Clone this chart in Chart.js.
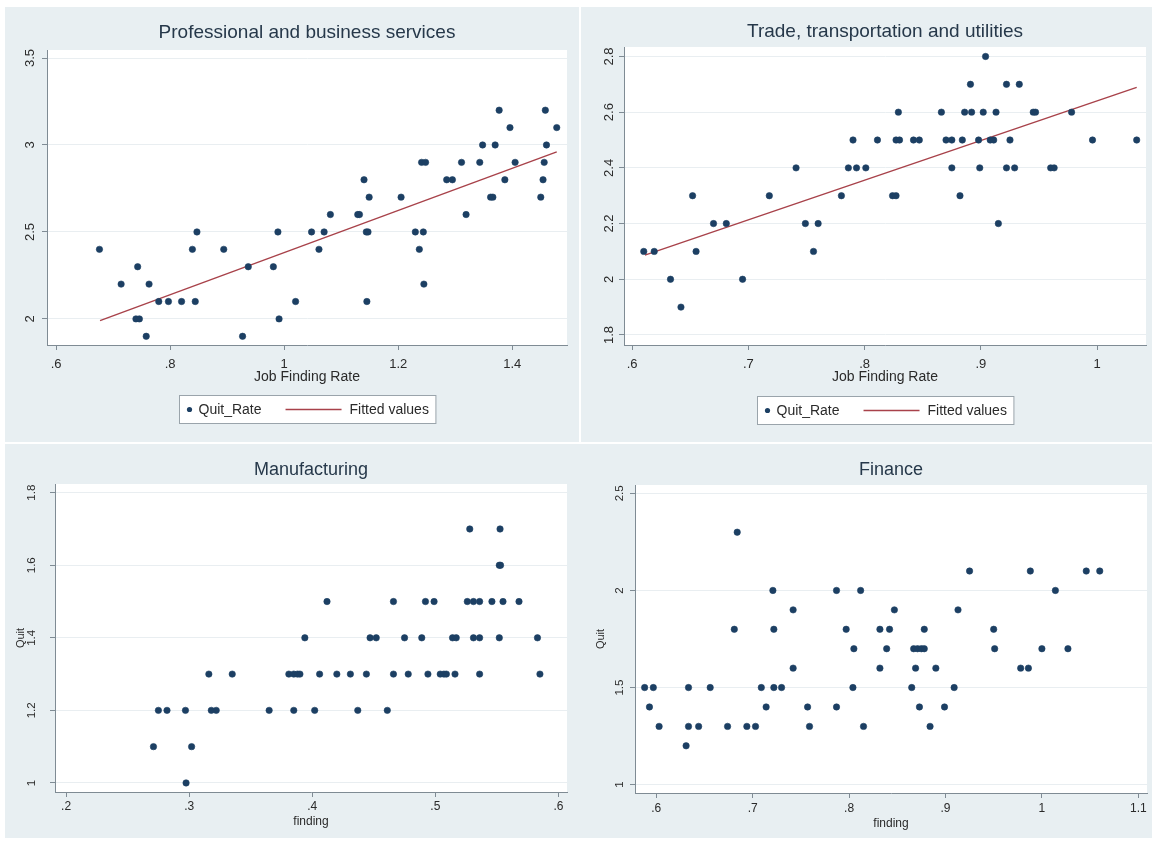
<!DOCTYPE html>
<html><head><meta charset="utf-8">
<script src="https://cdn.jsdelivr.net/npm/chart.js@4/dist/chart.umd.min.js"></script>
<style>
html,body{margin:0;padding:0;background:#fff;}
body{width:1155px;height:841px;position:relative;overflow:hidden;}
.bg{position:absolute;background:#e8eff2;}
canvas{position:absolute;}
</style></head><body>
<div class="bg" style="left:5px;top:7px;width:574px;height:435px"></div>
<div class="bg" style="left:581px;top:7px;width:571px;height:435px"></div>
<div class="bg" style="left:5px;top:444px;width:1147px;height:394px"></div>
<canvas id="c0" width="572" height="436" style="left:5px;top:7px"></canvas>
<canvas id="c1" width="572" height="436" style="left:580px;top:7px"></canvas>
<canvas id="c2" width="572" height="393" style="left:5px;top:445px"></canvas>
<canvas id="c3" width="572" height="393" style="left:580px;top:445px"></canvas>
<script>
// ---------- DATA ----------
const panelTitles = ['Professional and business services', 'Trade, transportation and utilities', 'Manufacturing', 'Finance'];
const xAxisTitles = ['Job Finding Rate', 'Job Finding Rate', 'finding', 'finding'];
const yAxisTitles = ['', '', 'Quit', 'Quit'];
const legendLabels = ['Quit_Rate', 'Fitted values'];

const profX = [0.676,0.714,0.743,0.763,0.740,0.746,0.758,0.780,0.797,0.820,0.839,0.847,0.844,0.894,0.927,0.937,0.981,0.989,0.991,1.020,1.048,1.061,1.070,1.081,1.129,1.132,1.140,1.149,1.144,1.147,1.145,1.205,1.230,1.237,1.244,1.245,1.241,1.248,1.285,1.295,1.311,1.319,1.343,1.348,1.362,1.366,1.370,1.377,1.387,1.396,1.405,1.450,1.454,1.456,1.458,1.460,1.478];
const profY = [2.4,2.2,2.3,2.2,2.0,2.0,1.9,2.1,2.1,2.1,2.4,2.5,2.1,2.4,1.9,2.3,2.3,2.5,2.0,2.1,2.5,2.4,2.5,2.6,2.6,2.6,2.8,2.7,2.5,2.5,2.1,2.7,2.5,2.4,2.5,2.2,2.9,2.9,2.8,2.8,2.9,2.6,2.9,3.0,2.7,2.7,3.0,3.2,2.8,3.1,2.9,2.7,2.8,2.9,3.2,3.0,3.1];
const profFitX = [0.677, 1.478];
const profFitY = [1.99, 2.96];

const tradeX = [0.610,0.619,0.633,0.642,0.652,0.655,0.670,0.681,0.695,0.718,0.741,0.749,0.756,0.760,0.780,0.786,0.790,0.793,0.801,0.811,0.824,0.827,0.827,0.830,0.829,0.842,0.847,0.866,0.870,0.875,0.875,0.882,0.884,0.886,0.892,0.891,0.899,0.898,0.902,0.904,0.908,0.911,0.913,0.915,0.922,0.922,0.925,0.929,0.933,0.945,0.947,0.960,0.963,0.978,0.996,1.034];
const tradeY = [2.1,2.1,2.0,1.9,2.3,2.1,2.2,2.2,2.0,2.3,2.4,2.2,2.1,2.2,2.3,2.4,2.5,2.4,2.4,2.5,2.3,2.3,2.5,2.5,2.6,2.5,2.5,2.6,2.5,2.5,2.4,2.3,2.5,2.6,2.6,2.7,2.4,2.5,2.6,2.8,2.5,2.5,2.6,2.2,2.7,2.4,2.5,2.4,2.7,2.6,2.6,2.4,2.4,2.6,2.5,2.5];
const tradeFitX = [0.611, 1.034];
const tradeFitY = [2.087, 2.689];

const manuX = [0.271,0.275,0.282,0.297,0.2975,0.302,0.316,0.318,0.322,0.335,0.365,0.381,0.385,0.388,0.390,0.385,0.394,0.402,0.406,0.412,0.420,0.431,0.437,0.444,0.447,0.452,0.461,0.466,0.466,0.475,0.478,0.489,0.492,0.499,0.494,0.504,0.507,0.509,0.514,0.517,0.516,0.528,0.526,0.531,0.536,0.531,0.536,0.536,0.546,0.552,0.553,0.5526,0.552,0.555,0.568,0.583,0.585];
const manuY = [1.1,1.2,1.2,1.2,1.0,1.1,1.3,1.2,1.2,1.3,1.2,1.3,1.3,1.3,1.3,1.2,1.4,1.2,1.3,1.5,1.3,1.3,1.2,1.3,1.4,1.4,1.2,1.5,1.3,1.4,1.3,1.4,1.5,1.5,1.3,1.3,1.3,1.3,1.4,1.4,1.3,1.7,1.5,1.5,1.5,1.4,1.4,1.3,1.5,1.6,1.6,1.7,1.4,1.5,1.5,1.4,1.3];

const finX = [0.588,0.597,0.593,0.603,0.631,0.6335,0.6335,0.644,0.656,0.674,0.681,0.684,0.694,0.703,0.709,0.714,0.721,0.722,0.722,0.730,0.742,0.742,0.757,0.759,0.787,0.787,0.797,0.805,0.804,0.812,0.815,0.832,0.832,0.839,0.842,0.847,0.865,0.867,0.871,0.875,0.878,0.869,0.873,0.878,0.884,0.890,0.899,0.909,0.913,0.925,0.950,0.951,0.978,0.986,0.988,1.000,1.014,1.027,1.046,1.060];
const finY = [1.5,1.5,1.4,1.3,1.2,1.5,1.3,1.3,1.5,1.3,1.8,2.3,1.3,1.3,1.5,1.4,2.0,1.8,1.5,1.5,1.9,1.6,1.4,1.3,2.0,1.4,1.8,1.7,1.5,2.0,1.3,1.8,1.6,1.7,1.8,1.9,1.5,1.7,1.7,1.7,1.7,1.6,1.4,1.8,1.3,1.6,1.4,1.5,1.9,2.1,1.8,1.7,1.6,1.6,2.1,1.7,2.0,1.7,2.1,2.1];

const profXTicks = [0.6,0.8,1,1.2,1.4];   const profXLabels = ['.6','.8','1','1.2','1.4'];
const profYTicks = [2,2.5,3,3.5];        const profYLabels = ['2','2.5','3','3.5'];
const tradeXTicks = [0.6,0.7,0.8,0.9,1];  const tradeXLabels = ['.6','.7','.8','.9','1'];
const tradeYTicks = [1.8,2,2.2,2.4,2.6,2.8]; const tradeYLabels = ['1.8','2','2.2','2.4','2.6','2.8'];
const manuXTicks = [0.2,0.3,0.4,0.5,0.6]; const manuXLabels = ['.2','.3','.4','.5','.6'];
const manuYTicks = [1,1.2,1.4,1.6,1.8];   const manuYLabels = ['1','1.2','1.4','1.6','1.8'];
const finXTicks = [0.6,0.7,0.8,0.9,1,1.1]; const finXLabels = ['.6','.7','.8','.9','1','1.1'];
const finYTicks = [1,1.5,2,2.5];          const finYLabels = ['1','1.5','2','2.5'];

// ---------- STYLE / LAYOUT ----------
const FONT = "'Liberation Sans', Arial, Helvetica, sans-serif";
const DOT = '#1c3f63';
const FIT = '#a8424a';
const AXIS = '#7f8b94';
const GRID = '#e9eef1';
const TXT = '#2a2a2a';
const TITLE = '#26384a';

const pts = (xs, ys) => xs.map((x, i) => ({x: x, y: ys[i]}));

const panels = [
  {id:'c0', pts:pts(profX, profY), fit:pts(profFitX, profFitY), xt:profXTicks, xl:profXLabels, yt:profYTicks, yl:profYLabels,
   title:panelTitles[0], xTitle:xAxisTitles[0], yTitle:yAxisTitles[0],
   range:{xmin:0.584,xmax:1.496,ymin:1.85,ymax:3.546},
   pad:{left:0,top:43,right:10,bottom:57}, yW:42, xH:41, titleY:26, titleSize:19, xTickSize:13, yTickSize:13, xTickPad:7, yTickPad:3, xTitleSize:14, yTitleSize:11, yTitlePad:9, legend:true, legendTop:50},
  {id:'c1', pts:pts(tradeX, tradeY), fit:pts(tradeFitX, tradeFitY), xt:tradeXTicks, xl:tradeXLabels, yt:tradeYTicks, yl:tradeYLabels,
   title:panelTitles[1], xTitle:xAxisTitles[1], yTitle:yAxisTitles[1],
   range:{xmin:0.593,xmax:1.042,ymin:1.764,ymax:2.834},
   pad:{left:0,top:40,right:6,bottom:57}, yW:44, xH:41, titleY:25, titleSize:19, xTickSize:13, yTickSize:13, xTickPad:7, yTickPad:1, xTitleSize:14, yTitleSize:11, yTitlePad:9, legend:true, legendTop:51},
  {id:'c2', pts:pts(manuX, manuY), fit:null, xt:manuXTicks, xl:manuXLabels, yt:manuYTicks, yl:manuYLabels,
   title:panelTitles[2], xTitle:xAxisTitles[2], yTitle:yAxisTitles[2],
   range:{xmin:0.191,xmax:0.607,ymin:0.975,ymax:1.824},
   pad:{left:0,top:39,right:10,bottom:9}, yW:50, xH:37, titleY:25, titleSize:18, xTickSize:12, yTickSize:11.5, xTickPad:2, yTickPad:10, xTitleSize:12, yTitleSize:11, yTitlePad:9, legend:false},
  {id:'c3', pts:pts(finX, finY), fit:null, xt:finXTicks, xl:finXLabels, yt:finYTicks, yl:finYLabels,
   title:panelTitles[3], xTitle:xAxisTitles[3], yTitle:yAxisTitles[3],
   range:{xmin:0.578,xmax:1.109,ymin:0.957,ymax:2.543},
   pad:{left:0,top:40,right:5,bottom:7}, yW:55, xH:38, titleY:25, titleSize:18, xTickSize:12, yTickSize:11.5, xTickPad:3, yTickPad:2, xTitleSize:12, yTitleSize:11, yTitlePad:14, legend:false}
];

const panelPlugin = {
  id: 'panelDeco',
  beforeDraw(chart) {
    const a = chart.chartArea, ctx = chart.ctx;
    ctx.save(); ctx.fillStyle = '#ffffff';
    ctx.fillRect(a.left, a.top, a.right - a.left, a.bottom - a.top);
    ctx.restore();
  },
  afterDraw(chart) {
    const p = chart.options.plugins.panelDeco;
    const a = chart.chartArea, ctx = chart.ctx;
    const cx = (a.left + a.right) / 2;
    ctx.save();
    ctx.fillStyle = TITLE;
    ctx.font = p.titleSize + 'px ' + FONT;
    ctx.textAlign = 'center'; ctx.textBaseline = 'middle';
    ctx.fillText(p.title, cx, p.titleY);
    if (p.legend) {
      ctx.font = '14px ' + FONT;
      const w1 = ctx.measureText(legendLabels[0]).width;
      const w2 = ctx.measureText(legendLabels[1]).width;
      const boxW = 19 + w1 + 24 + 56 + 8 + w2 + 7;
      const bx = Math.round(cx - boxW / 2) + 0.5, by = Math.round(a.bottom + p.legendTop) + 0.5, bh = 28;
      ctx.fillStyle = '#ffffff'; ctx.fillRect(bx, by, boxW, bh);
      ctx.strokeStyle = '#9aa4ab'; ctx.lineWidth = 1; ctx.strokeRect(bx, by, boxW, bh);
      const my = by + bh / 2;
      ctx.fillStyle = DOT; ctx.beginPath(); ctx.arc(bx + 10, my, 2.6, 0, Math.PI * 2); ctx.fill();
      ctx.fillStyle = TXT; ctx.textAlign = 'left';
      ctx.fillText(legendLabels[0], bx + 19, my + 1);
      const lx = bx + 19 + w1 + 24;
      ctx.strokeStyle = FIT; ctx.lineWidth = 1.3;
      ctx.beginPath(); ctx.moveTo(lx, my); ctx.lineTo(lx + 56, my); ctx.stroke();
      ctx.fillText(legendLabels[1], lx + 56 + 8, my + 1);
    }
    ctx.restore();
  }
};

panels.forEach(p => {
  const datasets = [{
    label: legendLabels[0], data: p.pts, backgroundColor: DOT, borderColor: DOT,
    pointRadius: 3.2, pointBorderWidth: 0.6, pointHoverRadius: 3.2
  }];
  if (p.fit) datasets.push({
    label: legendLabels[1], data: p.fit, showLine: true, borderColor: FIT, borderWidth: 1.4,
    pointRadius: 0, fill: false
  });
  new Chart(document.getElementById(p.id), {
    type: 'scatter',
    data: { datasets },
    plugins: [panelPlugin],
    options: {
      responsive: false, animation: false, events: [],
      layout: { padding: p.pad },
      plugins: {
        legend: { display: false }, title: { display: false }, tooltip: { enabled: false },
        panelDeco: { title: p.title, titleY: p.titleY, titleSize: p.titleSize, legend: p.legend, legendTop: p.legendTop }
      },
      scales: {
        x: {
          type: 'linear', min: p.range.xmin, max: p.range.xmax,
          afterBuildTicks: s => { s.ticks = p.xt.map(v => ({value: v})); },
          afterFit: s => { s.height = p.xH; },
          ticks: { autoSkip: false, maxRotation: 0, padding: p.xTickPad, color: TXT,
                   font: { size: p.xTickSize, family: FONT },
                   callback: (v, i) => p.xl[i] },
          grid: { drawOnChartArea: false, drawTicks: true, tickLength: 5, tickColor: AXIS, tickWidth: 1 },
          border: { display: true, color: AXIS, width: 1 },
          title: { display: true, text: p.xTitle, color: TXT, padding: {top: 0, bottom: 0},
                   font: { size: p.xTitleSize, family: FONT } }
        },
        y: {
          type: 'linear', min: p.range.ymin, max: p.range.ymax,
          afterBuildTicks: s => { s.ticks = p.yt.map(v => ({value: v})); },
          afterFit: s => { s.width = p.yW; },
          ticks: { autoSkip: false, minRotation: 90, maxRotation: 90, crossAlign: 'center', padding: p.yTickPad, color: TXT,
                   font: { size: p.yTickSize, family: FONT },
                   callback: (v, i) => p.yl[i] },
          grid: { drawOnChartArea: true, color: GRID, lineWidth: 1, drawTicks: true, tickLength: 5, tickColor: AXIS, tickWidth: 1 },
          border: { display: true, color: AXIS, width: 1 },
          title: { display: !!p.yTitle, text: p.yTitle, color: TXT, padding: {top: p.yTitlePad, bottom: 0},
                   font: { size: p.yTitleSize, family: FONT } }
        }
      }
    }
  });
});
</script>
</body></html>
